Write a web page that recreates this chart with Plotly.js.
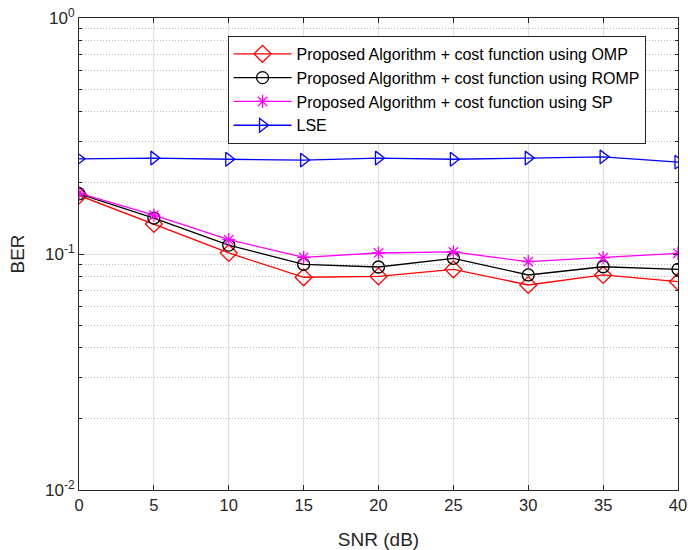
<!DOCTYPE html>
<html><head><meta charset="utf-8">
<script src="https://cdn.plot.ly/plotly-3.0.1.min.js"></script>
<style>html,body{margin:0;padding:0;background:#fff}#chart{width:688px;height:550px}</style>
</head><body><div id="chart"></div>
<script>
const snr = [0, 5, 10, 15, 20, 25, 30, 35, 40];
const berOMP  = [0.177, 0.134, 0.101, 0.0797, 0.0804, 0.0861, 0.0739, 0.0815, 0.0763];
const berROMP = [0.180, 0.142, 0.109, 0.0904, 0.0881, 0.0959, 0.0815, 0.0883, 0.0861];
const berSP   = [0.181, 0.146, 0.115, 0.0968, 0.101, 0.102, 0.0928, 0.0965, 0.1007];
const berLSE  = [0.253, 0.255, 0.252, 0.250, 0.255, 0.252, 0.255, 0.258, 0.245];
const names = ['Proposed Algorithm + cost function using OMP','Proposed Algorithm + cost function using ROMP','Proposed Algorithm + cost function using SP','LSE'];
const yTickVals = [0.01, 0.1, 1];
const yTickText = ['10<sup>-2</sup>', '10<sup>-1</sup>', '10<sup>0</sup>'];
const yMinorVals = [];
[0.01, 0.1].forEach(d => { for (let k = 2; k <= 9; k++) yMinorVals.push(d * k); });

function tr(y, name, color, symbol, size) {
  return {x: snr, y: y, name: name, type: 'scatter', mode: 'lines+markers',
    line: {color: color, width: 1.3},
    marker: {symbol: symbol, size: size, color: color, line: {color: color, width: 1.3}}};
}
const data = [
  tr(berOMP, names[0], '#ff0000', 'diamond-open', 13),
  tr(berROMP, names[1], '#000000', 'circle-open', 12),
  tr(berSP, names[2], '#ff00ff', 'asterisk-open', 11),
  tr(berLSE, names[3], '#0000ff', 'triangle-right-open', 12)
];
const font = {family: 'Liberation Sans, Arial, sans-serif', color: '#262626'};
const layout = {
  width: 688, height: 550,
  margin: {l: 79, r: 10, t: 18, b: 60},
  paper_bgcolor: '#fff', plot_bgcolor: '#fff',
  font: Object.assign({size: 16}, font),
  showlegend: true,
  legend: {x: 0.248, y: 0.962, xanchor: 'left', yanchor: 'top', bgcolor: '#fff',
    bordercolor: '#262626', borderwidth: 1, font: Object.assign({size: 16}, font, {color: '#000'}),
    itemwidth: 58, tracegroupgap: 0},
  xaxis: {range: [0, 40], tickvals: snr, ticks: 'inside', ticklen: 5, tickcolor: '#262626',
    showline: true, linecolor: '#262626', linewidth: 1, mirror: 'ticks',
    showgrid: true, gridcolor: '#e0e0e0', gridwidth: 1, zeroline: false,
    title: {text: 'SNR (dB)', font: Object.assign({size: 19}, font), standoff: 20},
    tickfont: Object.assign({size: 16.5}, font)},
  yaxis: {type: 'log', range: [-2, 0], tickvals: yTickVals, ticktext: yTickText,
    ticks: 'inside', ticklen: 5, tickcolor: '#262626',
    showline: true, linecolor: '#262626', linewidth: 1, mirror: 'ticks',
    showgrid: true, gridcolor: '#e0e0e0', gridwidth: 1, zeroline: false,
    minor: {tickvals: yMinorVals, ticks: 'inside', ticklen: 3, tickcolor: '#262626',
      showgrid: true, gridcolor: '#b8b8b8', griddash: '1px,2px', gridwidth: 1},
    title: {text: 'BER', font: Object.assign({size: 19}, font), standoff: 15},
    tickfont: Object.assign({size: 17}, font)}
};
Plotly.newPlot('chart', data, layout, {displayModeBar: false, staticPlot: true});
</script></body></html>
